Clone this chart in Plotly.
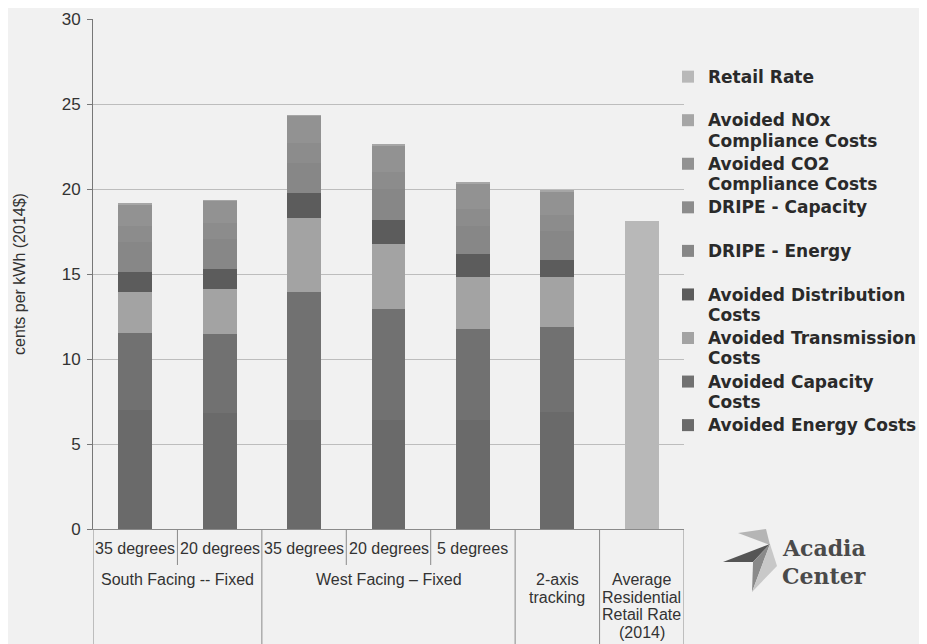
import plotly.graph_objects as go

# ---- data ----
positions = [0, 1, 2, 3, 4, 5, 6]
inner_labels = ["35 degrees", "20 degrees", "35 degrees", "20 degrees", "5 degrees", "", ""]
group_labels = [["South Facing -- Fixed"], ["West Facing – Fixed"], ["2-axis", "tracking"],
                ["Average", "Residential", "Retail Rate", "(2014)"]]
group_start = [0, 2, 5, 6]
group_end = [1, 4, 5, 6]

energy = [7.0, 6.8, 6.4, 6.4, 6.4, 6.9, None]
capacity = [4.55, 4.65, 7.55, 6.55, 5.35, 5.0, None]
transmission = [2.4, 2.65, 4.35, 3.8, 3.1, 2.9, None]
distribution = [1.15, 1.17, 1.45, 1.45, 1.35, 1.0, None]
dripe_energy = [1.8, 1.8, 1.8, 1.8, 1.6, 1.75, None]
dripe_capacity = [0.95, 0.95, 1.15, 1.0, 1.0, 0.95, None]
co2 = [1.25, 1.28, 1.6, 1.55, 1.5, 1.35, None]
nox = [0.06, 0.05, 0.05, 0.05, 0.07, 0.05, None]
retail = [None, None, None, None, None, None, 18.1]

series = [
    ("Avoided Energy Costs", energy, "#6a6a6a"),
    ("Avoided Capacity<br>Costs", capacity, "#717171"),
    ("Avoided Transmission<br>Costs", transmission, "#a3a3a3"),
    ("Avoided Distribution<br>Costs", distribution, "#5c5c5c"),
    ("DRIPE - Energy<br> ", dripe_energy, "#878787"),
    ("DRIPE - Capacity<br> ", dripe_capacity, "#8c8c8c"),
    ("Avoided CO2<br>Compliance Costs", co2, "#929292"),
    ("Avoided NOx<br>Compliance Costs", nox, "#a6a6a6"),
    ("Retail Rate<br> ", retail, "#b8b8b8"),
]

def legend_text(s):
    return "<br>".join(f"<span style='font-size:17px'>{p}</span>" for p in s.split("<br>"))

fig = go.Figure()
for name, vals, col in series:
    fig.add_trace(go.Bar(x=positions, y=vals, name=legend_text(name),
                         marker=dict(color=col, line=dict(width=0)), width=0.4))

# plot area geometry in screen pixels (page body adds an 8px offset)
OFF = 8
L, R, T, B = 93, 684, 19, 529
FW, FH = 927, 644
W, H = R - L, B - T
def px(xp):
    return (xp - L) / W
def py(yp):
    return (B - yp) / H

label_font = dict(family="Liberation Sans, Arial", size=16, color="#333333")
annotations = []
for i, t in enumerate(inner_labels):
    if t:
        annotations.append(dict(x=positions[i], y=py(548), xref="x", yref="paper", text=t,
                                showarrow=False, font=label_font, yanchor="middle"))
for g, s, e in zip(group_labels, group_start, group_end):
    for j, line in enumerate(g):
        annotations.append(dict(x=(positions[s] + positions[e]) / 2, y=py(579.5 + 17.7 * j),
                                xref="x", yref="paper", text=line, showarrow=False,
                                font=label_font, yanchor="middle", align="center"))

# logo text
annotations.append(dict(x=px(780), y=py(548), xref="paper", yref="paper", text="<b>Acadia</b>",
                        showarrow=False, xanchor="left", yanchor="middle",
                        font=dict(family="DejaVu Serif", size=22, color="#4a4a4a")))
annotations.append(dict(x=px(780), y=py(576), xref="paper", yref="paper", text="<b>Center</b>",
                        showarrow=False, xanchor="left", yanchor="middle",
                        font=dict(family="DejaVu Serif", size=22, color="#4a4a4a")))

shapes = []
line_col = "#8a8a8a"
for k in range(len(positions) + 1):
    xb = k - 0.5
    full = k in (0, 2, 5, 6, 7)
    shapes.append(dict(type="line", xref="x", yref="paper", x0=xb, x1=xb,
                       y0=0, y1=py(652) if full else py(565),
                       line=dict(color=line_col, width=1)))

def poly(pts, col):
    d = "M " + " L ".join(f"{px(a):.4f},{py(b):.4f}" for a, b in pts) + " Z"
    return dict(type="path", xref="paper", yref="paper", path=d, fillcolor=col, line=dict(width=0))
shapes.append(poly([(738, 533), (766, 529), (770, 545)], "#b5b5b5"))
shapes.append(poly([(723, 562), (770, 544), (753, 562)], "#555555"))
shapes.append(poly([(753, 562), (770, 544), (752, 592)], "#8a8a8a"))
shapes.append(poly([(770, 544), (777, 566), (752, 592)], "#c8c8c8"))

fig.update_layout(
    width=FW, height=FH,
    margin=dict(l=L - OFF, r=FW - (R - OFF), t=T - OFF, b=FH - (B - OFF), autoexpand=False),
    paper_bgcolor="#f1f1f1", plot_bgcolor="#f1f1f1",
    barmode="stack", bargap=0.6,
    showlegend=True,
    legend=dict(x=px(668), y=py(60), xanchor="left", yanchor="top", traceorder="reversed",
                valign="top", bgcolor="rgba(0,0,0,0)",
                font=dict(family="DejaVu Sans", size=15.6, color="#2a2a2a", weight="bold"),
                tracegroupgap=0),
    xaxis=dict(range=[-0.5, 6.5], showticklabels=False, showgrid=False, zeroline=False,
               showline=True, linecolor=line_col, ticks="", automargin=False),
    yaxis=dict(range=[0, 30], dtick=5, showgrid=True, gridcolor="#bdbdbd", gridwidth=1,
               zeroline=False, showline=True, linecolor="#777777", ticks="outside", ticklen=5,
               tickcolor="#777777", ticklabelstandoff=3, automargin=False,
               tickfont=dict(family="Liberation Sans, Arial", size=17, color="#333333"),
               title=dict(text="cents per kWh (2014$)", standoff=32,
                          font=dict(family="Liberation Sans, Arial", size=16, color="#333333"))),
    annotations=annotations, shapes=shapes,
)

fig.write_html("out.html")
